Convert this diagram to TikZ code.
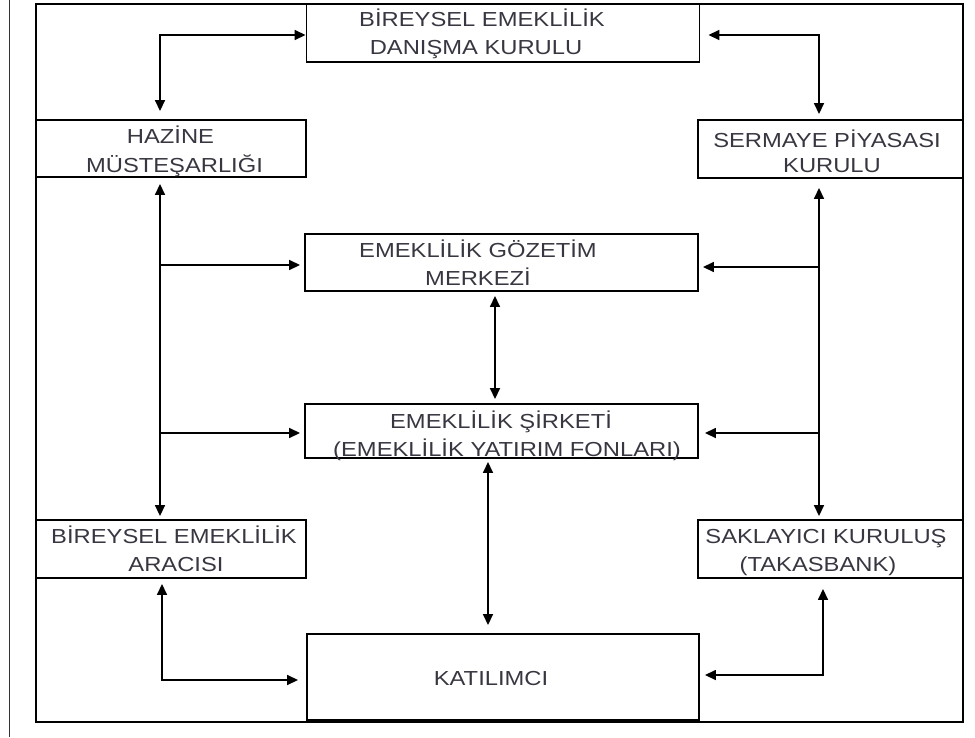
\documentclass[tikz,border=0pt]{standalone}
\usepackage{fontspec}
\setmainfont[FakeStretch=1.17]{Liberation Sans}
\usetikzlibrary{arrows.meta,calc}
\definecolor{txt}{RGB}{55,55,65}
\tikzset{
  box/.style={draw=black, line width=1.9pt, inner sep=0pt, minimum width=#1},
  lbl/.style={anchor=base, inner sep=0pt, text=txt, font=\fontsize{20.3}{24}\selectfont},
  conn/.style={line width=1.6pt, {Triangle[length=11pt,width=10pt]}-{Triangle[length=11pt,width=10pt]}},
  conn1/.style={line width=1.6pt, -{Triangle[length=11pt,width=10pt]}},
  frame/.style={draw=black, line width=1.3pt}
}
\begin{document}
\begin{tikzpicture}[x=1pt,y=-1pt]
\useasboundingbox (0,0) rectangle (975,737);
% frame
\draw[line width=0.9pt, draw=black!80] (9,0) -- (9,737);
\draw[frame] (36,4) rectangle (963,722);
% boxes
\node[box=393pt, minimum height=58pt] (bek) at (503,33) {};
\node[box=270pt, minimum height=57pt] (haz) at (171,148.5) {};
\node[box=265pt, minimum height=58pt] (spk) at (830.5,149) {};
\node[box=393pt, minimum height=57pt] (egm) at (501.5,262.5) {};
\node[box=393pt, minimum height=54pt] (es) at (501.5,431) {};
\node[box=270pt, minimum height=58pt] (bea) at (171,549) {};
\node[box=265pt, minimum height=58pt] (sk) at (830.5,549) {};
\node[box=392pt, minimum height=86pt] (kat) at (503,677) {};
% labels
\node[lbl] (bek1) at (482,26.7) {BİREYSEL EMEKLİLİK};
\node[lbl] (bek2) at (476,54.7) {DANIŞMA KURULU};
\node[lbl] (haz1) at (170.5,143) {HAZİNE};
\node[lbl] (haz2) at (174.5,172) {MÜSTEŞARLIĞI};
\node[lbl] (spk1) at (827,147) {SERMAYE PİYASASI};
\node[lbl] (spk2) at (832,172) {KURULU};
\node[lbl] (egm1) at (478,257) {EMEKLİLİK GÖZETİM};
\node[lbl] (egm2) at (478,285) {MERKEZİ};
\node[lbl] (es1) at (501,428) {EMEKLİLİK ŞİRKETİ};
\node[lbl] (es2) at (507,456) {(EMEKLİLİK YATIRIM FONLARI)};
\node[lbl] (bea1) at (174,543) {BİREYSEL EMEKLİLİK};
\node[lbl] (bea2) at (176,571) {ARACISI};
\node[lbl] (sk1) at (826,543) {SAKLAYICI KURULUŞ};
\node[lbl] (sk2) at (818,571) {(TAKASBANK)};
\node[lbl] (kat1) at (491,685) {KATILIMCI};
% guide coordinates
\coordinate (xl) at (160,0);
\coordinate (xr) at (819,0);
\coordinate (xb) at (162,0);
\coordinate (xs) at (823,0);
\coordinate (xm) at (495,0);
\coordinate (xk) at (488,0);
% connectors
\draw[conn] ($(bek.west)+(0,2)$) -| ($(haz.north -| xl)+(0,-8)$);
\draw[conn] ($(bek.east)+(8,2)$) -| ($(spk.north -| xr)+(0,-5)$);
\draw[conn] ($(haz.south -| xl)+(0,6)$) -- ($(bea.north -| xl)+(0,-3)$);
\draw[conn1] ($(xl |- egm.west)+(0,2.5)$) -- ($(egm.west)+(-4,2.5)$);
\draw[conn1] ($(xl |- es.west)+(0,2)$) -- ($(es.west)+(-4,2)$);
\draw[conn] ($(spk.south -| xr)+(0,9)$) -- ($(sk.north -| xr)+(0,-3)$);
\draw[conn1] ($(xr |- egm.east)+(0,4.5)$) -- ($(egm.east)+(4,4.5)$);
\draw[conn1] ($(xr |- es.east)+(0,2)$) -- ($(es.east)+(6,2)$);
\draw[conn] ($(egm.south -| xm)+(0,4)$) -- ($(es.north -| xm)+(0,-4)$);
\draw[conn] ($(es.south -| xk)+(0,3)$) -- ($(kat.north -| xk)+(0,-8)$);
\draw[conn] ($(bea.south -| xb)+(0,5)$) |- ($(kat.west)+(-8,3)$);
\draw[conn] ($(sk.south -| xs)+(0,10)$) |- ($(kat.east)+(5,-2)$);
\end{tikzpicture}
\end{document}
